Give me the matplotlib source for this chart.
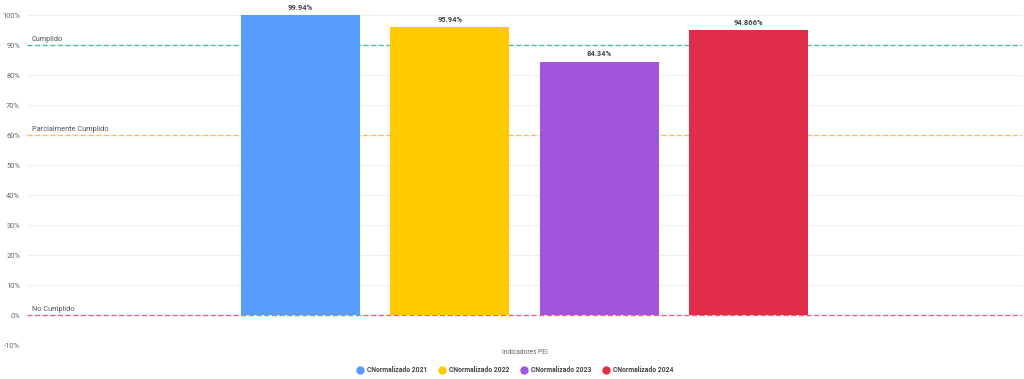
import matplotlib
matplotlib.use('Agg')

import numpy as np
import matplotlib.pyplot as plt
from matplotlib.lines import Line2D

# Data
series = ['CNormalizado 2021', 'CNormalizado 2022', 'CNormalizado 2023', 'CNormalizado 2024']
values = [99.94, 95.94, 84.34, 94.866]
value_labels = ['99.94%', '95.94%', '84.34%', '94.866%']
colors = ['#579DFF', '#FFCA00', '#A155DD', '#E02E4A']

thresholds = [90, 60, 0]
threshold_names = ['Cumplido', 'Parcialmente Cumplido', 'No Cumplido']
threshold_colors = ['#3FC493', '#FFBD50', '#F55D87']

yticks = np.arange(-10, 101, 10)

plt.rcParams['font.family'] = ['Roboto', 'DejaVu Sans']

fig = plt.figure(figsize=(10.24, 3.79), dpi=100)
ax = fig.add_axes([27 / 1024, 1 - 345 / 379, 995 / 1024, 345 / 379])

# one category, four grouped bars
step = 149.5 / 995
width = 119 / 995
offsets = (np.arange(len(values)) - (len(values) - 1) / 2) * step
for off, v, lab, c in zip(offsets, values, value_labels, colors):
    ax.bar(off, v, width=width, color=c, zorder=3)
    ax.text(off, v + 2.5, lab, ha='center', va='center', fontsize=5.4,
            fontweight='bold', color='#444444', zorder=4)

# grid first, thresholds on top, bars above all
ax.set_yticks(yticks)
ax.grid(axis='y', color='#F0F0F4', linewidth=0.8, zorder=0)
for t, name, c in zip(thresholds, threshold_names, threshold_colors):
    ax.axhline(t, color='white', linewidth=1.2, zorder=1)
    ax.axhline(t, color=c, linestyle=(0, (3.5, 2)), linewidth=1.0, zorder=2)
    ax.text(-0.495, t + 0.8, name, ha='left', va='bottom', fontsize=5.3,
            color='#555555', zorder=4)

ax.set_xlim(-0.5, 0.5)
ax.set_ylim(-10, 105)
ax.set_yticklabels([f'{t}%' for t in yticks])
ax.set_xticks([])
ax.tick_params(axis='y', length=0, labelsize=5.4, labelcolor='#666666', pad=5)
for s in ax.spines.values():
    s.set_visible(False)

fig.text(525 / 1024, 1 - 352 / 379, 'Indicadores PEI', ha='center', va='center',
         fontsize=4.8, color='#666666')

handles = [Line2D([], [], marker='o', linestyle='', markersize=5,
                  markerfacecolor=c, markeredgecolor=c) for c in colors]
leg = fig.legend(handles, series, loc='center', bbox_to_anchor=(515 / 1024, 1 - 370 / 379),
                 ncol=4, frameon=False, handletextpad=0.5, columnspacing=1.7,
                 handlelength=1.0, prop={'weight': 'bold', 'size': 4.9})
for t in leg.get_texts():
    t.set_color('#444444')

fig.savefig('out.png', dpi=100)
